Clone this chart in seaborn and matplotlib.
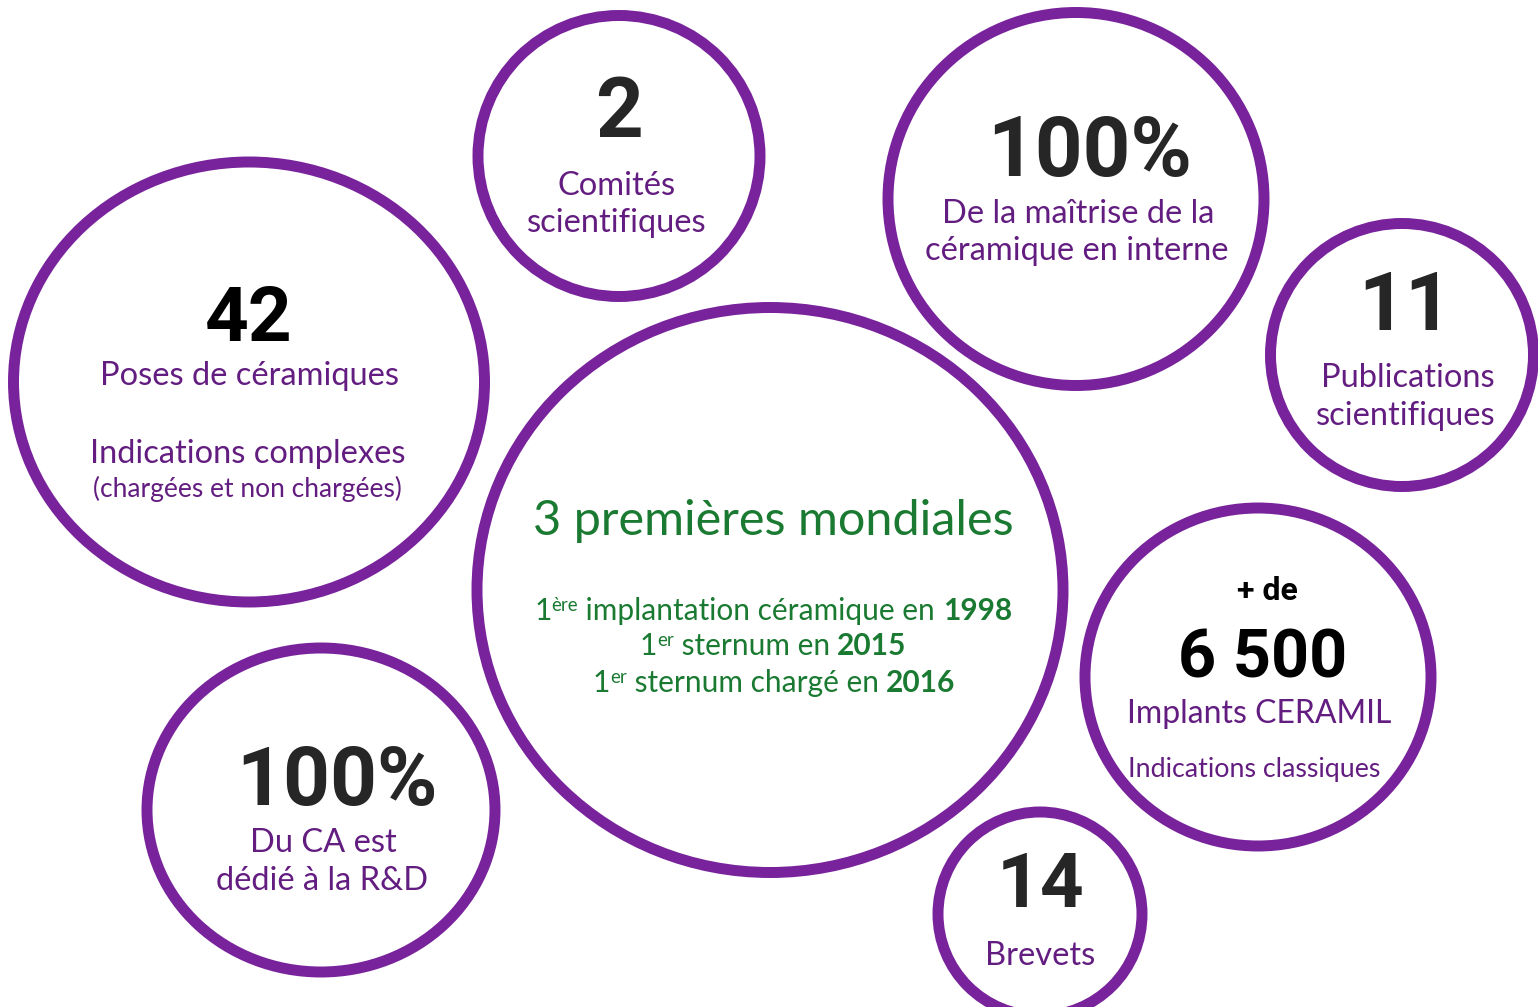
import matplotlib.pyplot as plt
from matplotlib.patches import Ellipse
import seaborn as sns

# key figures, one per bubble
values = ["2", "100%", "42", "11", "6 500", "100%", "14"]
prefixes = ["", "", "", "", "+ de", "", ""]
captions = [
    ["Comités", "scientifiques"],
    ["De la maîtrise de la", "céramique en interne"],
    ["Poses de céramiques", "Indications complexes", "(chargées et non chargées)"],
    ["Publications", "scientifiques"],
    ["Implants CERAMIL", "Indications classiques"],
    ["Du CA est", "dédié à la R&D"],
    ["Brevets"],
]

# central bubble
headline = "3 premières mondiales"
first_ord = ["ère", "er", "er"]
first_what = [" implantation céramique en ", " sternum en ", " sternum chargé en "]
first_year = ["1998", "2015", "2016"]

# layout (pixel units)
ellipses = [(619, 156, 282, 281), (1076, 199, 376, 373), (249, 382, 471, 440),
            (1402, 355, 263, 263), (1258, 677, 346, 338), (321, 810, 348, 324),
            (1040, 914, 204, 204)]
center_ellipse = (770, 590, 586, 565)
num_pos = [(619, 137, 60), (1090, 176, 60), (249, 341, 55), (1405, 330, 59),
           (1263, 678, 48), (337, 805, 59), (1041, 907, 55)]
num_colors = ["#262626", "#262626", "black", "#262626", "black", "#262626", "#262626"]
prefix_pos = [None, None, None, None, (1267, 600, 23), None, None]
cap_pos = [
    [(617, 195, 23.5), (617, 232, 23.5)],
    [(1078, 223, 23.5), (1077, 260, 23.5)],
    [(249, 385, 23.5), (248, 463, 23.5), (247, 497, 19)],
    [(1408, 387, 23.5), (1406, 425, 23.5)],
    [(1259, 723, 23), (1254, 777, 19.3)],
    [(323, 852, 23.5), (322, 890, 23.5)],
    [(1040, 965, 23.5)],
]
line_pos = [(773, 620), (773, 655), (774, 692)]

purple = "#78239B"
text_purple = "#631D80"
green = "#1B7A32"
num_font = ["Roboto", "DejaVu Sans"]
cap_font = ["Lato", "DejaVu Sans"]

sns.set_theme(style="white")
fig = plt.figure(figsize=(15.38, 10.07), dpi=100)
ax = fig.add_axes([0, 0, 1, 1])
ax.set_xlim(0, 1538)
ax.set_ylim(1007, 0)
ax.axis("off")

for (cx, cy, w, h) in ellipses + [center_ellipse]:
    ax.add_patch(Ellipse((cx, cy), w, h, fill=False, edgecolor=purple, linewidth=7.9))

for i, val in enumerate(values):
    x, y, s = num_pos[i]
    ax.text(x, y, val, ha="center", va="baseline", fontsize=s, fontweight="bold",
            color=num_colors[i], family=num_font)
    if prefixes[i]:
        px, py, ps = prefix_pos[i]
        ax.text(px, py, prefixes[i], ha="center", va="baseline", fontsize=ps,
                fontweight="bold", color="black", family=num_font)
    for line, (x, y, s) in zip(captions[i], cap_pos[i]):
        ax.text(x, y, line, ha="center", va="baseline", fontsize=s,
                color=text_purple, family=cap_font)

ax.text(773, 535, headline, ha="center", va="baseline", fontsize=35,
        color=green, family=cap_font)

renderer = fig.canvas.get_renderer()
for k in range(3):
    cx, base = line_pos[k]
    parts = [("1", 21.5, "normal", 0), (first_ord[k], 13.5, "normal", -9),
             (first_what[k], 21.5, "normal", 0), (first_year[k], 21.5, "bold", 0)]
    texts = []
    for s, size, weight, dy in parts:
        t = ax.text(0, base + dy, s, ha="left", va="baseline", fontsize=size,
                    fontweight=weight, color=green, family=cap_font)
        texts.append(t)
    widths = [t.get_window_extent(renderer).width for t in texts]
    x = cx - sum(widths) / 2
    for t, wd in zip(texts, widths):
        t.set_x(x)
        x += wd

fig.savefig("out.png", dpi=100, facecolor="white")
